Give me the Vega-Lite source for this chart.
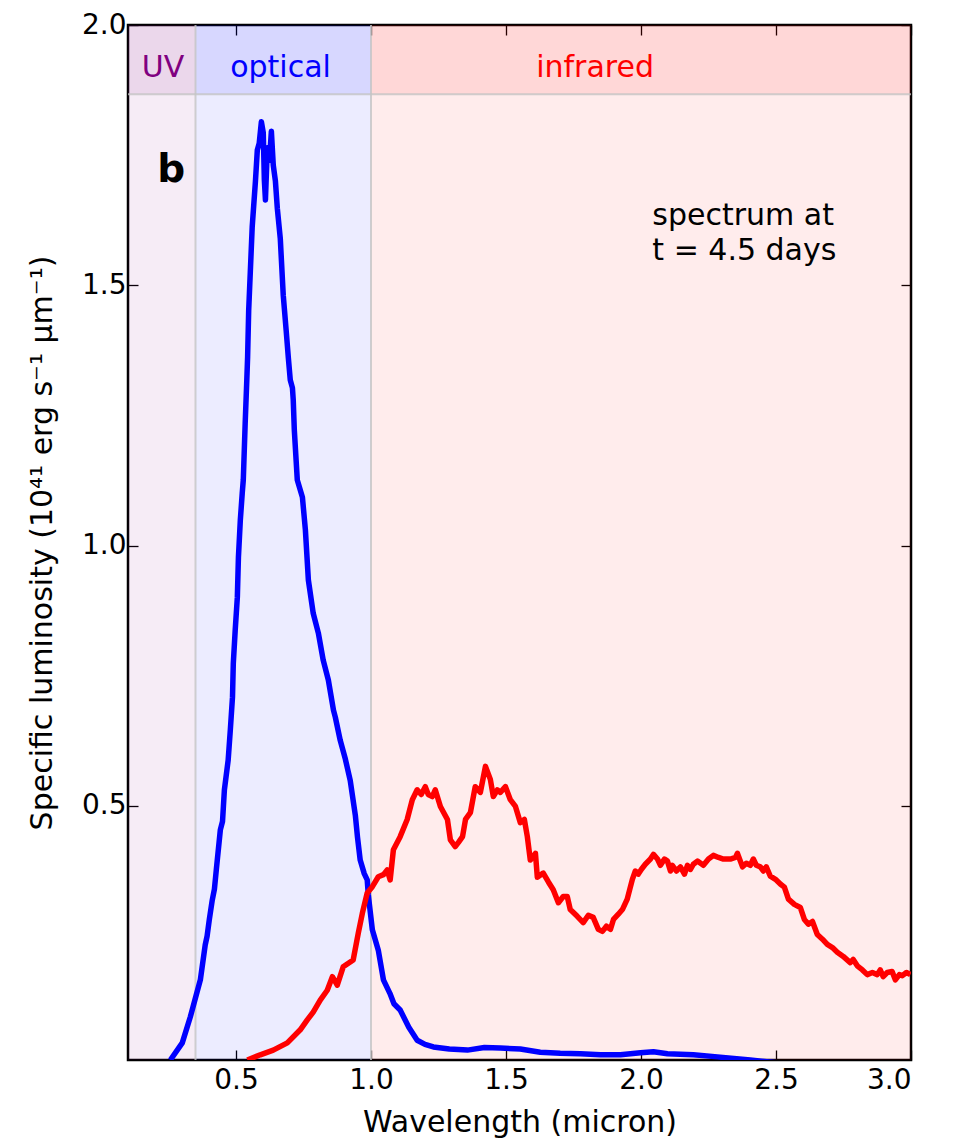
{
  "$schema": "https://vega.github.io/schema/vega-lite/v6.json",
  "width": 783,
  "height": 1035,
  "autosize": {"type": "none"},
  "padding": {"left": 128, "top": 25, "right": 48, "bottom": 83},
  "background": "white",
  "config": {
    "view": {"stroke": "black", "strokeWidth": 2.5},
    "font": "DejaVu Sans",
    "axis": {"grid": false, "domain": false, "tickColor": "black", "tickWidth": 1.3, "tickSize": -10, "labelFont": "DejaVu Sans", "labelFontSize": 28, "labelColor": "black", "titleFont": "DejaVu Sans", "titleFontSize": 30, "titleFontWeight": "normal", "titleColor": "black"}
  },
  "datasets": {
    "bands": [
      {"band": "UV", "lo": 0.1, "hi": 0.35, "labx": 0.23},
      {"band": "optical", "lo": 0.35, "hi": 1.0, "labx": 0.665},
      {"band": "infrared", "lo": 1.0, "hi": 3.0, "labx": 1.83}
    ],
    "edges": [{"lam": 0.35}, {"lam": 1.0}],
    "spectrum": [
      {"band":"optical","lam":0.257,"L":0.012},{"band":"optical","lam":0.301,"L":0.045},{"band":"optical","lam":0.331,"L":0.095},{"band":"optical","lam":0.368,"L":0.166},{"band":"optical","lam":0.386,"L":0.233},{"band":"optical","lam":0.393,"L":0.250},{"band":"optical","lam":0.401,"L":0.281},{"band":"optical","lam":0.412,"L":0.319},{"band":"optical","lam":0.420,"L":0.340},{"band":"optical","lam":0.427,"L":0.377},{"band":"optical","lam":0.442,"L":0.454},{"band":"optical","lam":0.450,"L":0.470},{"band":"optical","lam":0.457,"L":0.531},{"band":"optical","lam":0.471,"L":0.588},{"band":"optical","lam":0.479,"L":0.646},{"band":"optical","lam":0.487,"L":0.709},{"band":"optical","lam":0.490,"L":0.774},{"band":"optical","lam":0.497,"L":0.837},{"band":"optical","lam":0.505,"L":0.901},{"band":"optical","lam":0.509,"L":0.978},{"band":"optical","lam":0.516,"L":1.049},{"band":"optical","lam":0.523,"L":1.100},{"band":"optical","lam":0.527,"L":1.126},{"band":"optical","lam":0.534,"L":1.235},{"band":"optical","lam":0.540,"L":1.318},{"band":"optical","lam":0.543,"L":1.362},{"band":"optical","lam":0.547,"L":1.452},{"band":"optical","lam":0.560,"L":1.612},{"band":"optical","lam":0.572,"L":1.700},{"band":"optical","lam":0.579,"L":1.760},{"band":"optical","lam":0.586,"L":1.773},{"band":"optical","lam":0.594,"L":1.814},{"band":"optical","lam":0.601,"L":1.793},{"band":"optical","lam":0.605,"L":1.702},{"band":"optical","lam":0.609,"L":1.664},{"band":"optical","lam":0.616,"L":1.764},{"band":"optical","lam":0.624,"L":1.740},{"band":"optical","lam":0.631,"L":1.796},{"band":"optical","lam":0.638,"L":1.731},{"band":"optical","lam":0.646,"L":1.700},{"band":"optical","lam":0.653,"L":1.648},{"band":"optical","lam":0.664,"L":1.590},{"band":"optical","lam":0.675,"L":1.481},{"band":"optical","lam":0.686,"L":1.412},{"band":"optical","lam":0.694,"L":1.360},{"band":"optical","lam":0.701,"L":1.318},{"band":"optical","lam":0.709,"L":1.303},{"band":"optical","lam":0.712,"L":1.280},{"band":"optical","lam":0.716,"L":1.222},{"band":"optical","lam":0.727,"L":1.126},{"band":"optical","lam":0.746,"L":1.093},{"band":"optical","lam":0.757,"L":1.030},{"band":"optical","lam":0.768,"L":0.934},{"band":"optical","lam":0.786,"L":0.870},{"band":"optical","lam":0.805,"L":0.832},{"band":"optical","lam":0.823,"L":0.780},{"band":"optical","lam":0.842,"L":0.742},{"band":"optical","lam":0.861,"L":0.684},{"band":"optical","lam":0.868,"L":0.670},{"band":"optical","lam":0.886,"L":0.626},{"band":"optical","lam":0.905,"L":0.590},{"band":"optical","lam":0.923,"L":0.549},{"band":"optical","lam":0.942,"L":0.482},{"band":"optical","lam":0.950,"L":0.440},{"band":"optical","lam":0.960,"L":0.396},{"band":"optical","lam":0.975,"L":0.370},{"band":"optical","lam":0.986,"L":0.358},{"band":"optical","lam":0.990,"L":0.329},{"band":"optical","lam":1.005,"L":0.262},{"band":"optical","lam":1.027,"L":0.223},{"band":"optical","lam":1.046,"L":0.166},{"band":"optical","lam":1.070,"L":0.140},{"band":"optical","lam":1.085,"L":0.120},{"band":"optical","lam":1.108,"L":0.108},{"band":"optical","lam":1.140,"L":0.075},{"band":"optical","lam":1.171,"L":0.050},{"band":"optical","lam":1.200,"L":0.042},{"band":"optical","lam":1.231,"L":0.037},{"band":"optical","lam":1.290,"L":0.033},{"band":"optical","lam":1.357,"L":0.031},{"band":"optical","lam":1.420,"L":0.036},{"band":"optical","lam":1.479,"L":0.035},{"band":"optical","lam":1.553,"L":0.033},{"band":"optical","lam":1.627,"L":0.027},{"band":"optical","lam":1.701,"L":0.025},{"band":"optical","lam":1.776,"L":0.024},{"band":"optical","lam":1.850,"L":0.022},{"band":"optical","lam":1.924,"L":0.022},{"band":"optical","lam":1.998,"L":0.026},{"band":"optical","lam":2.046,"L":0.028},{"band":"optical","lam":2.098,"L":0.024},{"band":"optical","lam":2.194,"L":0.022},{"band":"optical","lam":2.283,"L":0.018},{"band":"optical","lam":2.405,"L":0.012},{"band":"optical","lam":2.516,"L":0.006},
      {"band":"infrared","lam":0.542,"L":0.012},{"band":"infrared","lam":0.590,"L":0.022},{"band":"infrared","lam":0.638,"L":0.031},{"band":"infrared","lam":0.690,"L":0.045},{"band":"infrared","lam":0.738,"L":0.070},{"band":"infrared","lam":0.764,"L":0.089},{"band":"infrared","lam":0.786,"L":0.104},{"band":"infrared","lam":0.812,"L":0.127},{"band":"infrared","lam":0.838,"L":0.146},{"band":"infrared","lam":0.857,"L":0.172},{"band":"infrared","lam":0.875,"L":0.156},{"band":"infrared","lam":0.897,"L":0.191},{"band":"infrared","lam":0.934,"L":0.204},{"band":"infrared","lam":0.953,"L":0.256},{"band":"infrared","lam":0.968,"L":0.294},{"band":"infrared","lam":0.986,"L":0.333},{"band":"infrared","lam":1.005,"L":0.345},{"band":"infrared","lam":1.027,"L":0.364},{"band":"infrared","lam":1.046,"L":0.368},{"band":"infrared","lam":1.060,"L":0.377},{"band":"infrared","lam":1.071,"L":0.358},{"band":"infrared","lam":1.083,"L":0.416},{"band":"infrared","lam":1.108,"L":0.441},{"band":"infrared","lam":1.134,"L":0.474},{"band":"infrared","lam":1.153,"L":0.512},{"band":"infrared","lam":1.171,"L":0.531},{"band":"infrared","lam":1.186,"L":0.522},{"band":"infrared","lam":1.201,"L":0.537},{"band":"infrared","lam":1.212,"L":0.522},{"band":"infrared","lam":1.227,"L":0.518},{"band":"infrared","lam":1.238,"L":0.531},{"band":"infrared","lam":1.257,"L":0.499},{"band":"infrared","lam":1.283,"L":0.474},{"band":"infrared","lam":1.294,"L":0.435},{"band":"infrared","lam":1.312,"L":0.422},{"band":"infrared","lam":1.324,"L":0.430},{"band":"infrared","lam":1.339,"L":0.441},{"band":"infrared","lam":1.350,"L":0.474},{"band":"infrared","lam":1.368,"L":0.487},{"band":"infrared","lam":1.386,"L":0.537},{"band":"infrared","lam":1.405,"L":0.526},{"band":"infrared","lam":1.424,"L":0.576},{"band":"infrared","lam":1.442,"L":0.551},{"band":"infrared","lam":1.453,"L":0.518},{"band":"infrared","lam":1.468,"L":0.531},{"band":"infrared","lam":1.479,"L":0.526},{"band":"infrared","lam":1.498,"L":0.537},{"band":"infrared","lam":1.516,"L":0.512},{"band":"infrared","lam":1.535,"L":0.499},{"band":"infrared","lam":1.553,"L":0.468},{"band":"infrared","lam":1.568,"L":0.474},{"band":"infrared","lam":1.579,"L":0.441},{"band":"infrared","lam":1.590,"L":0.396},{"band":"infrared","lam":1.609,"L":0.409},{"band":"infrared","lam":1.616,"L":0.363},{"band":"infrared","lam":1.638,"L":0.371},{"band":"infrared","lam":1.657,"L":0.354},{"band":"infrared","lam":1.675,"L":0.339},{"band":"infrared","lam":1.694,"L":0.314},{"band":"infrared","lam":1.712,"L":0.326},{"band":"infrared","lam":1.727,"L":0.326},{"band":"infrared","lam":1.738,"L":0.301},{"band":"infrared","lam":1.764,"L":0.288},{"band":"infrared","lam":1.786,"L":0.276},{"band":"infrared","lam":1.805,"L":0.290},{"band":"infrared","lam":1.823,"L":0.286},{"band":"infrared","lam":1.842,"L":0.263},{"band":"infrared","lam":1.857,"L":0.259},{"band":"infrared","lam":1.872,"L":0.269},{"band":"infrared","lam":1.887,"L":0.263},{"band":"infrared","lam":1.898,"L":0.282},{"band":"infrared","lam":1.916,"L":0.292},{"band":"infrared","lam":1.931,"L":0.301},{"band":"infrared","lam":1.949,"L":0.321},{"band":"infrared","lam":1.968,"L":0.359},{"band":"infrared","lam":1.979,"L":0.375},{"band":"infrared","lam":1.990,"L":0.369},{"band":"infrared","lam":2.001,"L":0.378},{"band":"infrared","lam":2.016,"L":0.388},{"band":"infrared","lam":2.035,"L":0.398},{"band":"infrared","lam":2.046,"L":0.407},{"band":"infrared","lam":2.061,"L":0.398},{"band":"infrared","lam":2.072,"L":0.386},{"band":"infrared","lam":2.087,"L":0.398},{"band":"infrared","lam":2.098,"L":0.394},{"band":"infrared","lam":2.109,"L":0.375},{"band":"infrared","lam":2.116,"L":0.386},{"band":"infrared","lam":2.131,"L":0.375},{"band":"infrared","lam":2.146,"L":0.383},{"band":"infrared","lam":2.161,"L":0.369},{"band":"infrared","lam":2.172,"L":0.386},{"band":"infrared","lam":2.183,"L":0.378},{"band":"infrared","lam":2.194,"L":0.388},{"band":"infrared","lam":2.209,"L":0.394},{"band":"infrared","lam":2.231,"L":0.386},{"band":"infrared","lam":2.250,"L":0.398},{"band":"infrared","lam":2.268,"L":0.405},{"band":"infrared","lam":2.287,"L":0.401},{"band":"infrared","lam":2.305,"L":0.398},{"band":"infrared","lam":2.331,"L":0.398},{"band":"infrared","lam":2.350,"L":0.401},{"band":"infrared","lam":2.357,"L":0.409},{"band":"infrared","lam":2.368,"L":0.394},{"band":"infrared","lam":2.376,"L":0.383},{"band":"infrared","lam":2.390,"L":0.390},{"band":"infrared","lam":2.405,"L":0.386},{"band":"infrared","lam":2.416,"L":0.398},{"band":"infrared","lam":2.427,"L":0.386},{"band":"infrared","lam":2.442,"L":0.383},{"band":"infrared","lam":2.453,"L":0.375},{"band":"infrared","lam":2.464,"L":0.383},{"band":"infrared","lam":2.479,"L":0.365},{"band":"infrared","lam":2.498,"L":0.359},{"band":"infrared","lam":2.516,"L":0.350},{"band":"infrared","lam":2.531,"L":0.344},{"band":"infrared","lam":2.546,"L":0.321},{"band":"infrared","lam":2.568,"L":0.311},{"band":"infrared","lam":2.590,"L":0.305},{"band":"infrared","lam":2.605,"L":0.282},{"band":"infrared","lam":2.620,"L":0.273},{"band":"infrared","lam":2.635,"L":0.278},{"band":"infrared","lam":2.653,"L":0.253},{"band":"infrared","lam":2.672,"L":0.244},{"band":"infrared","lam":2.690,"L":0.234},{"band":"infrared","lam":2.709,"L":0.228},{"band":"infrared","lam":2.727,"L":0.219},{"band":"infrared","lam":2.749,"L":0.211},{"band":"infrared","lam":2.775,"L":0.199},{"band":"infrared","lam":2.786,"L":0.205},{"band":"infrared","lam":2.801,"L":0.193},{"band":"infrared","lam":2.820,"L":0.185},{"band":"infrared","lam":2.838,"L":0.176},{"band":"infrared","lam":2.857,"L":0.180},{"band":"infrared","lam":2.875,"L":0.176},{"band":"infrared","lam":2.886,"L":0.185},{"band":"infrared","lam":2.897,"L":0.172},{"band":"infrared","lam":2.912,"L":0.180},{"band":"infrared","lam":2.930,"L":0.182},{"band":"infrared","lam":2.942,"L":0.166},{"band":"infrared","lam":2.957,"L":0.176},{"band":"infrared","lam":2.968,"L":0.174},{"band":"infrared","lam":2.983,"L":0.180},{"band":"infrared","lam":2.998,"L":0.176}
    ]
  },
  "resolve": {"axis": {"x": "independent", "y": "independent"}},
  "layer": [
    {
      "data": {"name": "bands"},
      "mark": {"type": "rect", "opacity": 0.075},
      "encoding": {
        "x": {"field": "lo", "type": "quantitative", "scale": {"domain": [0.1, 3.0], "nice": false, "zero": false},
              "axis": {"orient": "bottom", "values": [0.5, 1.0, 1.5, 2.0, 2.5, 3.0], "format": ".1f", "labelPadding": 16, "title": "Wavelength (micron)", "titlePadding": 13}},
        "x2": {"field": "hi"},
        "y": {"datum": 0.012, "type": "quantitative", "scale": {"domain": [0.012, 2.0], "nice": false, "zero": false},
              "axis": {"orient": "left", "values": [0.5, 1.0, 1.5, 2.0], "format": ".1f", "labelPadding": 12, "title": "Specific luminosity (10⁴¹ erg s⁻¹  μm⁻¹)", "titlePadding": 24}},
        "y2": {"datum": 2.0},
        "color": {"field": "band", "type": "nominal", "scale": {"domain": ["UV", "optical", "infrared"], "range": ["#800080", "#0000ff", "#ff0000"]}, "legend": null}
      }
    },
    {
      "data": {"name": "bands"},
      "mark": {"type": "rect", "opacity": 0.085},
      "encoding": {
        "x": {"field": "lo", "type": "quantitative", "axis": {"orient": "top", "values": [0.5, 1.0, 1.5, 2.0, 2.5, 3.0], "labels": false, "title": null}},
        "x2": {"field": "hi"},
        "y": {"datum": 1.867, "type": "quantitative", "axis": {"orient": "right", "values": [0.5, 1.0, 1.5, 2.0], "labels": false, "title": null}},
        "y2": {"datum": 2.0},
        "color": {"field": "band", "type": "nominal", "legend": null}
      }
    },
    {
      "data": {"name": "edges"},
      "mark": {"type": "rule", "color": "#c4c4c4", "strokeWidth": 2, "opacity": 0.8},
      "encoding": {
        "x": {"field": "lam", "type": "quantitative", "axis": null}
      }
    },
    {
      "data": {"values": [{"top": 1.867}]},
      "mark": {"type": "rule", "color": "#c4c4c4", "strokeWidth": 2, "opacity": 0.8},
      "encoding": {
        "y": {"field": "top", "type": "quantitative", "axis": null}
      }
    },
    {
      "data": {"name": "bands"},
      "mark": {"type": "text", "fontSize": 30, "baseline": "alphabetic", "align": "center"},
      "encoding": {
        "x": {"field": "labx", "type": "quantitative", "axis": null},
        "y": {"datum": 1.9, "type": "quantitative", "axis": null},
        "text": {"field": "band"},
        "color": {"field": "band", "type": "nominal", "legend": null}
      }
    },
    {
      "data": {"name": "spectrum"},
      "mark": {"type": "line", "strokeWidth": 5.5, "clip": true, "strokeJoin": "round"},
      "encoding": {
        "x": {"field": "lam", "type": "quantitative", "axis": null},
        "y": {"field": "L", "type": "quantitative", "axis": null},
        "color": {"field": "band", "type": "nominal", "legend": null}
      }
    },
    {
      "data": {"values": [{"lam": 0.2085, "L": 1.698, "label": "b"}]},
      "mark": {"type": "text", "fontSize": 39, "fontWeight": "bold", "align": "left", "baseline": "alphabetic", "color": "black"},
      "encoding": {
        "x": {"field": "lam", "type": "quantitative", "axis": null},
        "y": {"field": "L", "type": "quantitative", "axis": null},
        "text": {"field": "label"}
      }
    },
    {
      "data": {"values": [{"lam": 2.042, "L": 1.616, "label": ["spectrum at", "t = 4.5 days"]}]},
      "mark": {"type": "text", "fontSize": 30, "align": "left", "baseline": "alphabetic", "lineHeight": 35, "color": "black"},
      "encoding": {
        "x": {"field": "lam", "type": "quantitative", "axis": null},
        "y": {"field": "L", "type": "quantitative", "axis": null},
        "text": {"field": "label"}
      }
    }
  ]
}
